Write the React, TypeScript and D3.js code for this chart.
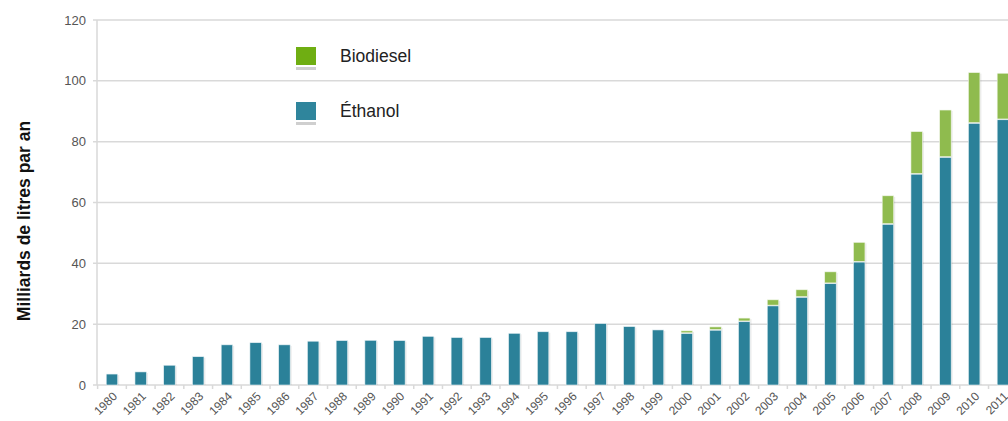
import * as d3 from "d3";

const years = d3.range(1980, 2012).map(String);
const ethanol = [
  3.6, 4.3, 6.5, 9.3, 13.2, 13.9, 13.2, 14.4, 14.6, 14.7, 14.6, 16.0, 15.6, 15.6,
  17.0, 17.5, 17.5, 20.2, 19.2, 18.1, 16.9, 18.0, 20.8, 26.0, 28.8, 33.3, 40.4,
  52.8, 69.3, 74.8, 86.0, 87.2,
];
const biodiesel = [
  0, 0, 0, 0, 0, 0, 0, 0, 0, 0, 0, 0, 0, 0, 0, 0, 0, 0, 0, 0, 0.9, 1.1, 1.2, 2.0,
  2.5, 3.9, 6.5, 9.4, 14.0, 15.6, 16.7, 15.3,
];
const yTicks = [0, 20, 40, 60, 80, 100, 120];

const W = 1008;
const H = 421;
const colors = {
  ethanol: "#2b8199",
  biodiesel: "#8fbb4e",
  legendBio: "#6fae12",
  legendEth: "#2f859c",
  grid: "#d9d9d9",
  text: "#555555",
};

export default function App() {
  const x = d3
    .scaleBand<string>()
    .domain(years)
    .range([97.6, 97.6 + 28.74 * years.length])
    .paddingInner(0.6)
    .paddingOuter(0.3);
  const y = d3.scaleLinear().domain([0, 120]).range([385, 20]);
  const step = x.step();
  const bw = x.bandwidth();
  const left = 97;

  const rows = years.map((yr, i) => ({
    yr,
    eth: ethanol[i],
    bio: biodiesel[i],
  }));

  return (
    <>
      <style>{`body{margin:0}`}</style>
      <svg width={W} height={H} style={{ display: "block", fontFamily: "Liberation Sans, Arial, sans-serif" }}>
        {yTicks.map((t) => (
          <g key={t}>
            <line x1={left - 4} x2={W} y1={y(t)} y2={y(t)} stroke={colors.grid} strokeWidth={1.5} />
            <text x={86} y={y(t)} dy="0.35em" textAnchor="end" fontSize={13} fill={colors.text}>
              {t}
            </text>
          </g>
        ))}
        <line x1={left} x2={left} y1={y(120)} y2={y(0)} stroke={colors.grid} strokeWidth={1.5} />

        {rows.map((d) => {
          const bx = x(d.yr)!;
          const total = d.eth + d.bio;
          return (
            <g key={d.yr}>
              <rect x={bx + 1.5} y={y(total) + 1} width={bw} height={y(0) - y(total) - 1} fill="#000" opacity={0.08} />
              <rect x={bx} y={y(d.eth)} width={bw} height={y(0) - y(d.eth)} fill={colors.ethanol} stroke="#e8f2f5" strokeWidth={0.6} />
              {d.bio > 0 && (
                <rect x={bx} y={y(total)} width={bw} height={y(d.eth) - y(total) - 0.8} fill={colors.biodiesel} stroke="#f0f6e8" strokeWidth={0.6} />
              )}
            </g>
          );
        })}

        {years.map((yr) => {
          const bx = x(yr)!;
          const cx = bx + bw / 2;
          return (
            <g key={yr}>
              <line x1={bx - step * 0.3} x2={bx - step * 0.3} y1={y(0)} y2={y(0) + 4} stroke={colors.grid} strokeWidth={1.5} />
              <text
                transform={`translate(${cx + 3},${y(0) + 9}) rotate(-45)`}
                textAnchor="end"
                dy="0.35em"
                fontSize={12}
                fill={colors.text}
              >
                {yr}
              </text>
            </g>
          );
        })}

        <text
          transform={`translate(30,${221}) rotate(-90)`}
          textAnchor="middle"
          fontSize={17.5}
          fontWeight="bold"
          fill="#111"
        >
          Milliards de litres par an
        </text>

        {[
          { label: "Biodiesel", color: colors.legendBio, cy: 56 },
          { label: "Éthanol", color: colors.legendEth, cy: 111 },
        ].map((l) => (
          <g key={l.label}>
            <rect x={296} y={l.cy - 9} width={20} height={18} fill={l.color} />
            <rect x={296} y={l.cy + 11} width={20} height={3} fill="#cfcfcf" />
            <text x={340} y={l.cy} dy="0.35em" fontSize={17.5} fill="#222">
              {l.label}
            </text>
          </g>
        ))}
      </svg>
    </>
  );
}
